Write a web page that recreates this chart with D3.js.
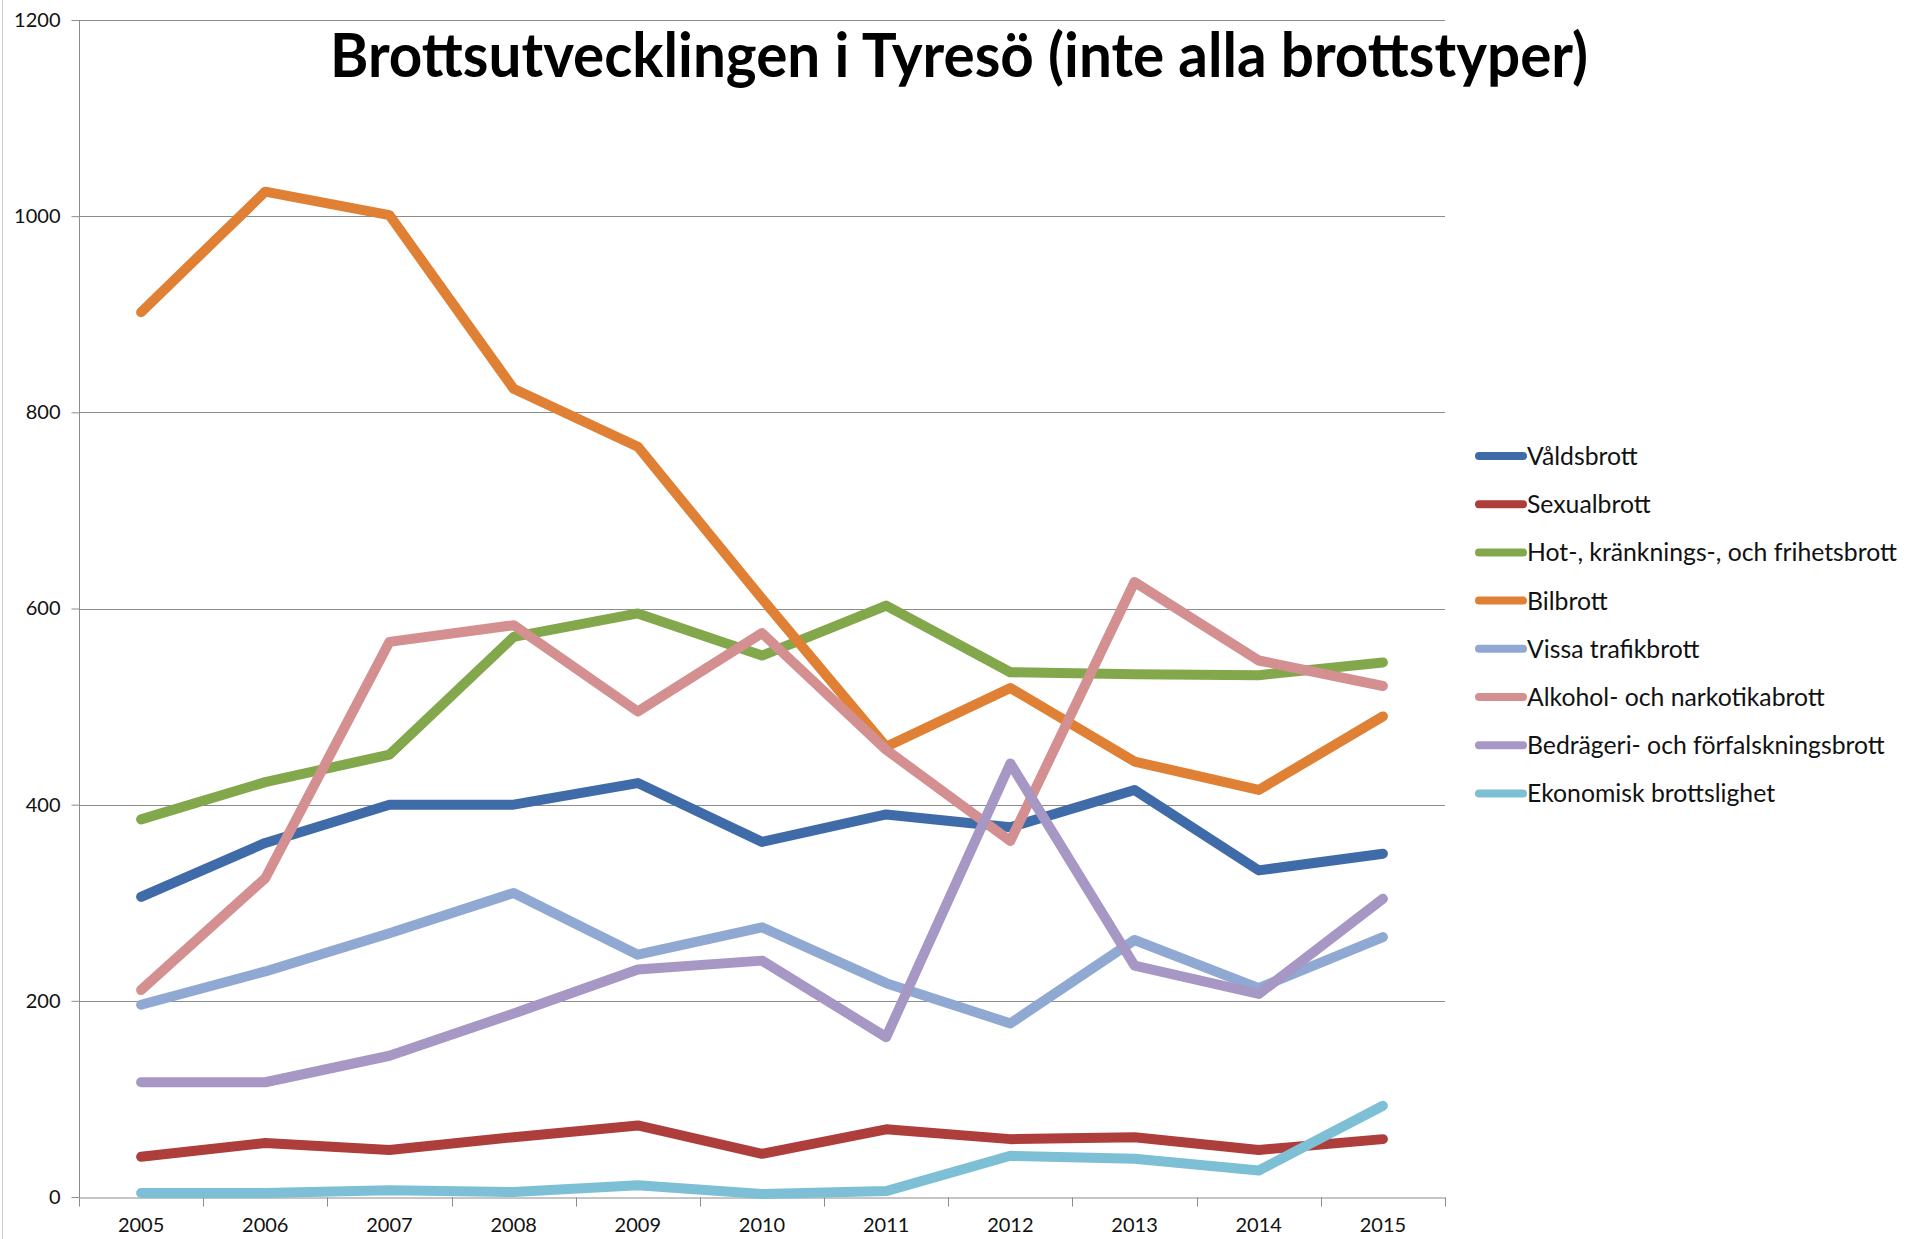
<!DOCTYPE html>
<html lang="sv">
<head>
<meta charset="UTF-8">
<title>Brottsutvecklingen i Tyresö</title>
<script src="https://d3js.org/d3.v7.min.js"></script>
<style>
  body { margin: 0; background: #fff; }
  svg { display: block; font-family: Lato, "Open Sans", sans-serif; }
</style>
</head>
<body>
<div id="chart"></div>
<script>
// years on the x axis
const years = ['2005', '2006', '2007', '2008', '2009', '2010', '2011', '2012', '2013', '2014', '2015'];
const yTicks = [0, 200, 400, 600, 800, 1000, 1200];

// one array per crime type
const valdsbrott   = [306, 361, 400, 400, 422, 362, 390, 377, 415, 333, 350];
const sexualbrott  = [41, 55, 48, 61, 73, 44, 69, 59, 61, 48, 59];
const hotbrott     = [385, 423, 451, 571, 595, 552, 603, 535, 533, 532, 545];
const bilbrott     = [902, 1025, 1001, 824, 765, 610, 459, 519, 444, 415, 490];
const trafikbrott  = [196, 230, 269, 310, 247, 275, 218, 177, 262, 213, 265];
const alkoholbrott = [211, 325, 566, 583, 495, 575, 456, 363, 627, 547, 521];
const bedrageri    = [117, 117, 144, 187, 232, 241, 163, 442, 236, 207, 304];
const ekonomisk    = [4, 4, 7, 5, 12, 3, 6, 42, 39, 27, 93];

const seriesNames = [
  'Våldsbrott', 'Sexualbrott', 'Hot-, kränknings-, och frihetsbrott', 'Bilbrott',
  'Vissa trafikbrott', 'Alkohol- och narkotikabrott', 'Bedrägeri- och förfalskningsbrott',
  'Ekonomisk brottslighet'
];
const seriesValues = [valdsbrott, sexualbrott, hotbrott, bilbrott, trafikbrott, alkoholbrott, bedrageri, ekonomisk];
const colors = ['#3f6ca8', '#ae3e3b', '#82a84b', '#df8034', '#90a9d3', '#d49090', '#a697c4', '#7dbfd4'];

const width = 1915, height = 1239;
const plot = { left: 79, right: 1445, top: 20, bottom: 1197 };

const svg = d3.select('#chart').append('svg')
  .attr('width', width)
  .attr('height', height);

// thin frame line on the left edge
svg.append('line')
  .attr('x1', 2.5).attr('x2', 2.5).attr('y1', 0).attr('y2', height)
  .attr('stroke', '#d0d0d0').attr('stroke-width', 1);

const x = d3.scaleBand()
  .domain(years)
  .range([plot.left, plot.right])
  .padding(0);

const y = d3.scaleLinear()
  .domain([0, 1200])
  .range([plot.bottom, plot.top]);

const cx = d => x(d) + x.bandwidth() / 2;

// gridlines
svg.append('g')
  .selectAll('line')
  .data(yTicks.filter(t => t > 0))
  .enter().append('line')
  .attr('x1', plot.left).attr('x2', plot.right)
  .attr('y1', d => Math.round(y(d)) + 0.5).attr('y2', d => Math.round(y(d)) + 0.5)
  .attr('stroke', '#8c8c8c').attr('stroke-width', 1);

// y axis
const yAxis = svg.append('g')
  .attr('transform', `translate(${plot.left + 0.5},0)`)
  .call(d3.axisLeft(y).tickValues(yTicks).tickFormat(d3.format('d')).tickSize(8).tickPadding(11));
yAxis.select('.domain').attr('stroke', '#8c8c8c').attr('d', `M0,${plot.top}V${plot.bottom}`);
yAxis.selectAll('.tick line').attr('stroke', '#8c8c8c');
yAxis.selectAll('.tick text')
  .attr('font-size', 20).attr('fill', '#111')
  .style('font-family', 'Lato, sans-serif');

// x axis: labels at category centers, tick marks at the boundaries
const xAxis = svg.append('g')
  .attr('transform', `translate(0,${Math.round(plot.bottom) + 0.5})`)
  .call(d3.axisBottom(x).tickSize(0).tickPadding(20));
xAxis.select('.domain').attr('stroke', '#8c8c8c');
xAxis.selectAll('.tick text')
  .attr('font-size', 20).attr('fill', '#111')
  .style('font-family', 'Lato, sans-serif');

const bounds = years.map(d => x(d)).concat([x(years[years.length - 1]) + x.bandwidth()]);
xAxis.selectAll('.bound')
  .data(bounds)
  .enter().append('line')
  .attr('class', 'bound')
  .attr('x1', d => Math.round(d) + 0.5).attr('x2', d => Math.round(d) + 0.5)
  .attr('y1', 0).attr('y2', 9)
  .attr('stroke', '#8c8c8c');

// lines, drawn in legend order (last on top)
const line = d3.line()
  .x((v, i) => cx(years[i]))
  .y(v => y(v));

svg.append('g')
  .selectAll('path')
  .data(seriesValues)
  .enter().append('path')
  .attr('d', line)
  .attr('fill', 'none')
  .attr('stroke', (d, i) => colors[i])
  .attr('stroke-width', 10)
  .attr('stroke-linejoin', 'round')
  .attr('stroke-linecap', 'round');

// title
svg.append('text')
  .attr('x', 330).attr('y', 77)
  .attr('textLength', 1258)
  .attr('lengthAdjust', 'spacingAndGlyphs')
  .attr('font-size', 61)
  .attr('font-weight', 'bold')
  .attr('fill', '#000')
  .text('Brottsutvecklingen i Tyresö (inte alla brottstyper)');

// legend
const legend = svg.append('g').attr('transform', 'translate(1475,456)');
const rowH = 48.2;
const items = legend.selectAll('g')
  .data(seriesNames)
  .enter().append('g')
  .attr('transform', (d, i) => `translate(0,${i * rowH})`);

items.append('line')
  .attr('x1', 4).attr('x2', 48)
  .attr('y1', 0).attr('y2', 0)
  .attr('stroke', (d, i) => colors[i])
  .attr('stroke-width', 8)
  .attr('stroke-linecap', 'round');

const labels = items.append('text')
  .attr('x', 0)
  .attr('y', 9)
  .attr('font-size', 25)
  .attr('fill', '#111')
  .text(d => d);

// squeeze the labels a bit, the original font is narrower
const longest = labels.filter((d, i) => i === 2).node().getComputedTextLength();
const sx = 370 / longest;
labels.attr('transform', `translate(52,0) scale(${sx},1)`);
</script>
</body>
</html>
